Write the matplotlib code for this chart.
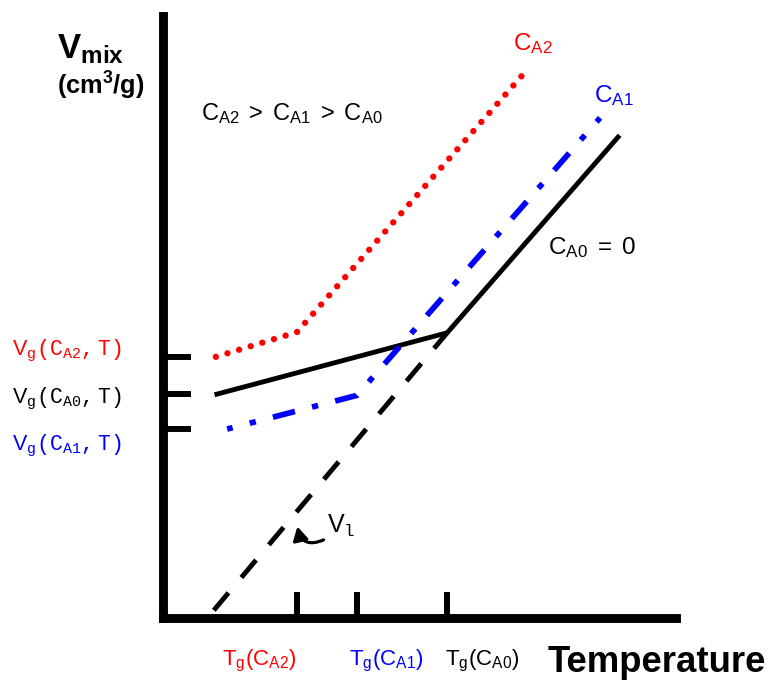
import matplotlib
matplotlib.use("Agg")
import matplotlib.pyplot as plt

plt.rcParams['font.family'] = ['Liberation Sans', 'DejaVu Sans']
plt.rcParams['mathtext.fontset'] = 'custom'
plt.rcParams['mathtext.rm'] = 'Liberation Sans'
plt.rcParams['mathtext.sf'] = 'Liberation Sans'
plt.rcParams['mathtext.bf'] = 'Liberation Sans:bold'
plt.rcParams['mathtext.tt'] = 'Liberation Mono'

# schematic values (arbitrary units)
Tg = [26.2, 37.9, 55.5]            # Tg(CA2), Tg(CA1), Tg(CA0)
Tg_labels = [r'$\mathrm{T_g(C_{A2})}$', r'$\mathrm{T_g(C_{A1})}$', r'$\mathrm{T_g(C_{A0})}$']
Tg_colors = ['red', 'blue', 'black']

T_ca0 = [10.6, 55.5, 88.8]
V_ca0 = [37.1, 47.3, 79.8]
T_liquid = [10.0, 55.5]
V_liquid = [1.2, 47.3]
T_ca1 = [12.6, 37.9, 85.3]
V_ca1 = [31.3, 36.9, 83.0]
T_ca2 = [10.4, 26.2, 71.2]
V_ca2 = [43.3, 47.4, 91.1]

Vg_ticks = [V_ca2[0], V_ca0[0], V_ca1[0]]
Vg_labels = [r'$\mathsf{V}_{\mathtt{g}}\mathtt{(C_{A2},T)}$',
             r'$\mathsf{V}_{\mathtt{g}}\mathtt{(C_{A0},T)}$',
             r'$\mathsf{V}_{\mathtt{g}}\mathtt{(C_{A1},T)}$']
Vg_colors = ['red', 'black', 'blue']

W, H = 770, 683
fig = plt.figure(figsize=(W / 100, H / 100), dpi=100)
ax = fig.add_axes([162.5 / W, (H - 617.5) / H, 513 / W, 602 / H])
ax.set_xlim(0, 100)
ax.set_ylim(0, 100)

def px(x, y):
    # pixel position -> figure fraction (for the free text labels)
    return x / W, 1 - y / H

for side in ['top', 'right']:
    ax.spines[side].set_visible(False)
for side in ['left', 'bottom']:
    ax.spines[side].set_linewidth(6.4)

ax.set_xticks(Tg)
ax.set_yticks(Vg_ticks)
ax.set_xticklabels([])
ax.set_yticklabels([])
ax.tick_params(axis='x', direction='in', length=18.4, width=4.3)
ax.tick_params(axis='y', direction='in', length=19.8, width=4.3)

ax.plot(T_ca0, V_ca0, color='black', lw=3.5, solid_joinstyle='miter', clip_on=False)
ax.plot(T_liquid, V_liquid, color='black', lw=3.5, dashes=(4.7, 4.1),
        dash_capstyle='butt', clip_on=False)
ax.plot(T_ca1, V_ca1, color='blue', lw=4.1,
        linestyle=(3.0, (4.0, 3.1, 1.1, 3.1)), dash_capstyle='butt', clip_on=False)
ax.plot(T_ca2, V_ca2, color='red', lw=4.6, dashes=(0.001, 1.9),
        dash_capstyle='round', clip_on=False)

# V_l curved arrow
ax.annotate('', xy=(26.3, 15.1), xytext=(31.4, 12.9),
            arrowprops=dict(arrowstyle='-|>,head_length=0.8,head_width=0.45', color='black',
                            lw=2.3, shrinkA=0, shrinkB=0,
                            connectionstyle='arc3,rad=-0.6'))
fig.text(*px(327, 533), r'$\mathsf{V}_{\mathtt{l}}$', fontsize=18, va='baseline')

# axis labels
fig.text(*px(57, 58), r'$\mathbf{V_{mix}}$', fontsize=25, va='baseline')
fig.text(*px(57, 95), r'$\mathbf{(cm^3/g)}$', fontsize=18.3, va='baseline')
fig.text(*px(548, 672), 'Temperature', fontsize=26.3, fontweight='bold', va='baseline')

for x0, lab, c in zip([222, 349, 445], Tg_labels, Tg_colors):
    fig.text(*px(x0, 665), lab, fontsize=16, color=c, va='baseline')

for y0, lab, c in zip([355, 403, 450], Vg_labels, Vg_colors):
    fig.text(*px(12, y0), lab, fontsize=15.5, color=c, va='baseline')

fig.text(*px(201, 120), r'$\mathrm{C_{A2}\:>\:C_{A1}\:>\:C_{A0}}$', fontsize=17, va='baseline')
fig.text(*px(513, 50), r'$\mathrm{C_{A2}}$', fontsize=17.5, color='red', va='baseline')
fig.text(*px(594, 102), r'$\mathrm{C_{A1}}$', fontsize=17.5, color='blue', va='baseline')
fig.text(*px(548, 254), r'$\mathrm{C_{A0}\:=\:0}$', fontsize=17.5, va='baseline')

fig.savefig('out.png', dpi=100)
